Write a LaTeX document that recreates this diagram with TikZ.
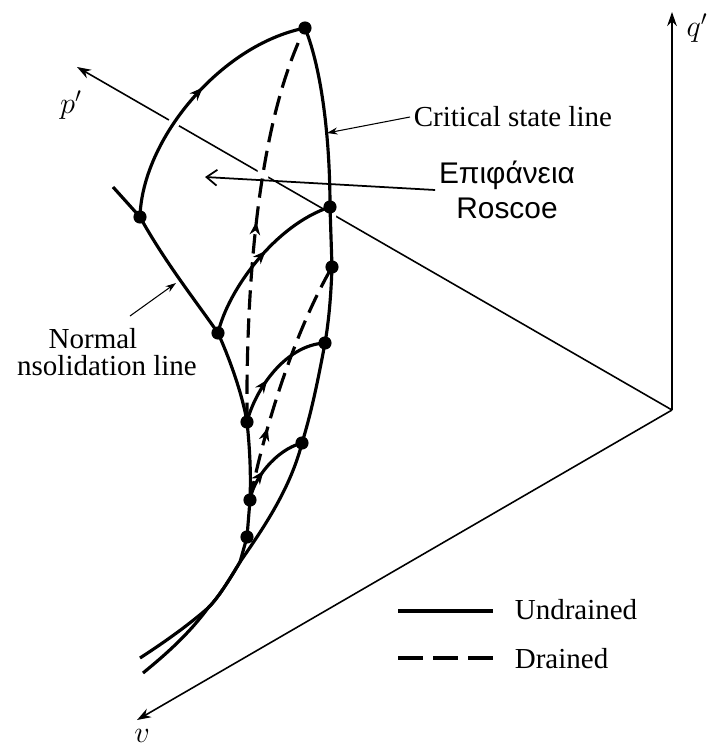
\documentclass[tikz,border=0pt]{standalone}
\usepackage{fontspec}
\setmainfont{Liberation Serif}
\newfontfamily\greekfont{Liberation Sans}
\usetikzlibrary{arrows.meta, decorations.markings}
\tikzset{
  dotnode/.style={circle, fill=black, minimum size=7.5pt, inner sep=0pt},
  udpath/.style={line width=1.8pt},
  drpath/.style={line width=1.8pt, dash pattern=on 11pt off 5pt},
  axline/.style={line width=0.9pt, -{Stealth[length=8pt, width=5.5pt]}},
  callout/.style={line width=0.6pt, -{Stealth[length=6pt, width=4pt]}},
  halo/.style={preaction={draw=white, line width=6.5pt, solid}},
  midarrow/.style={postaction={decorate}, decoration={markings,
      mark=at position #1 with {\arrow{Stealth[length=7.5pt, width=6pt]}}}},
  lbl/.style={font=\fontsize{16.5}{19}\selectfont, inner sep=2pt},
  roslbl/.style={font=\greekfont\fontsize{17}{20}\selectfont, inner sep=2pt, align=center},
  axlbl/.style={font=\LARGE, inner sep=0pt},
}

\begin{document}
\begin{tikzpicture}[x=0.02cm, y=-0.02cm]
  \useasboundingbox (0,0) rectangle (710,747);
  % ── axes q', p', v ──────────────────────────────────────────────
  \coordinate (O) at (672,410);
  \coordinate (qtip) at (672,12);
  \coordinate (ptip) at (77,67);
  \coordinate (vtip) at (137,720);
  \node[axlbl] (qlbl) at (697,28) {$q'$};
  \node[axlbl] (plbl) at (71,105) {$p'$};
  \node[axlbl] (vlbl) at (142,736) {$v$};
  \draw[axline] (O) -- (qtip);
  \draw[axline] (O) -- (ptip);
  \draw[axline] (O) -- (vtip);
  % ── states on the surface ───────────────────────────────────────
  \coordinate (A) at (305,28);
  \coordinate (B) at (140,217);
  \coordinate (C) at (218,333);
  \coordinate (D) at (247,422);
  \coordinate (E) at (250,500);
  \coordinate (F) at (247,537);
  \coordinate (G) at (330,207);
  \coordinate (H) at (332,267);
  \coordinate (I) at (325,343);
  \coordinate (J) at (302,443);
  \coordinate (N0) at (113,187);
  \coordinate (M1) at (240,562);
  \coordinate (M2) at (208,608);
  \coordinate (N9) at (140,658);
  \coordinate (C9) at (143,673);
  % ── lines in front of the p' axis ───────────────────────────────
  \draw[drpath, halo, midarrow=0.5] (D) .. controls (246,300) and (255,130) .. (A);
  \draw[udpath, halo] (A) .. controls (322,70) and (330,140) .. (G) -- (H)
      .. controls (331,295) and (329,320) .. (I)
      .. controls (318,380) and (312,410) .. (J)
      .. controls (290,490) and (262,530) .. (M1)
      .. controls (228,582) and (218,598) .. (M2)
      .. controls (188,635) and (165,655) .. (C9);
  \draw[udpath, halo, midarrow=0.55] (B) .. controls (142,140) and (220,45) .. (A);
  % ── normal consolidation line ───────────────────────────────────
  \draw[udpath] (N0) -- (B) .. controls (165,262) and (195,300) .. (C)
      .. controls (228,355) and (242,392) .. (D)
      .. controls (250,450) and (251,475) .. (E) -- (F) -- (M1)
      .. controls (228,582) and (218,598) .. (M2)
      .. controls (185,628) and (160,645) .. (N9);
  % ── undrained and drained paths ─────────────────────────────────
  \draw[udpath, midarrow=0.55] (C) .. controls (228,290) and (275,225) .. (G);
  \draw[udpath, midarrow=0.4] (D) .. controls (255,390) and (285,345) .. (I);
  \draw[udpath, midarrow=0.4] (E) .. controls (253,480) and (275,450) .. (J);
  \draw[drpath, midarrow=0.3] (E) .. controls (262,440) and (290,340) .. (H);
  \foreach \pt in {A,B,C,D,E,F,G,H,I,J}
    \node[dotnode] (\pt-dot) at (\pt) {};
  % ── labels ──────────────────────────────────────────────────────
  \node[lbl, anchor=west] (csl-lbl) at (410,117) {Critical state line};
  \coordinate (csl-pt) at (327,133);
  \draw[callout] (csl-lbl.west) -- (csl-pt);
  \node[roslbl] (ros-lbl) at (507,190) {Επιφάνεια\\Roscoe};
  \coordinate (ros-pt) at (205,177);
  \draw[line width=1pt, -{Straight Barb[length=6pt, width=9pt]}] (ros-lbl.west) -- (ros-pt);
  \node[lbl, inner sep=0.5pt] (ncl-lbl) at (93,339) {Normal};
  \node[lbl, inner sep=0.5pt] (ncl-lbl2) at (107,366) {nsolidation line};
  \coordinate (ncl-foot) at (130,316);
  \coordinate (ncl-pt) at (176,283);
  \draw[callout] (ncl-foot) -- (ncl-pt);
  % ── legend ──────────────────────────────────────────────────────
  \coordinate (lg-u0) at (398,611);
  \coordinate (lg-u1) at (493,611);
  \coordinate (lg-d0) at (398,658);
  \coordinate (lg-d1) at (493,658);
  \node[lbl, anchor=west] (lg-u) at (511,610) {Undrained};
  \node[lbl, anchor=west] (lg-d) at (511,659) {Drained};
  \draw[udpath] (lg-u0) -- (lg-u1);
  \draw[drpath, dash pattern=on 14pt off 6pt] (lg-d0) -- (lg-d1);
\end{tikzpicture}
\end{document}
